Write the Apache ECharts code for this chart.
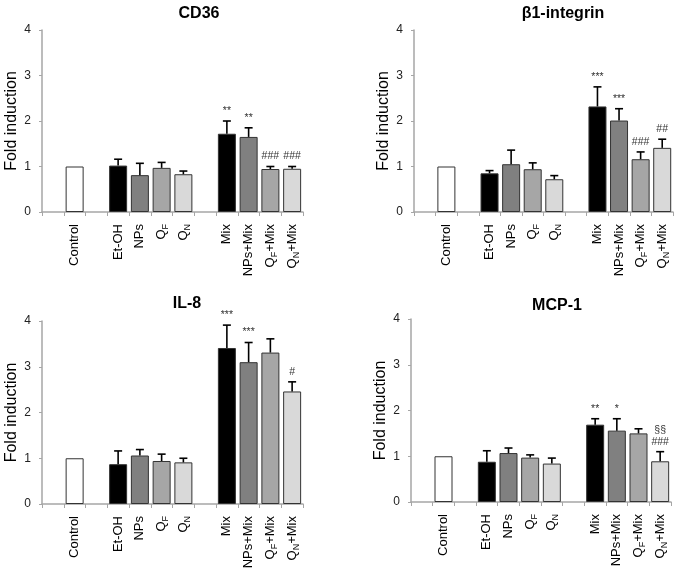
<!DOCTYPE html>
<html>
<head>
<meta charset="utf-8">
<script src="https://cdn.jsdelivr.net/npm/echarts@6/dist/echarts.min.js"></script>
<style>html,body{margin:0;padding:0;background:#fff}#c{width:678px;height:574px}</style>
</head>
<body>
<div id="c"></div>
<script>
// Axis slots (gaps are empty slots between groups)
const slots = ['gap0', 'Control', 'gap1', 'Et-OH', 'NPs', 'QF', 'QN', 'gap2', 'Mix', 'NPs+Mix', 'QF+Mix', 'QN+Mix'];
const treatments = ['Control', 'Et-OH', 'NPs', 'QF', 'QN', 'Mix', 'NPs+Mix', 'QF+Mix', 'QN+Mix'];
const yTicks = [0, 1, 2, 3, 4];

const titles = ['CD36', 'β1-integrin', 'IL-8', 'MCP-1'];

const cd36Mean = [1.0, 1.02, 0.81, 0.97, 0.83, 1.72, 1.65, 0.945, 0.95];
const cd36Sd   = [0, 0.14, 0.26, 0.12, 0.07, 0.28, 0.20, 0.055, 0.05];
const cd36Sig  = ['', '', '', '', '', '**', '**', '###', '###'];

const b1Mean = [1.0, 0.85, 1.05, 0.94, 0.72, 2.32, 2.01, 1.16, 1.41];
const b1Sd   = [0, 0.06, 0.31, 0.14, 0.08, 0.43, 0.26, 0.16, 0.19];
const b1Sig  = ['', '', '', '', '', '***', '***', '###', '##'];

const il8Mean = [1.0, 0.87, 1.06, 0.94, 0.91, 3.41, 3.10, 3.31, 2.46];
const il8Sd   = [0, 0.29, 0.13, 0.15, 0.09, 0.50, 0.43, 0.30, 0.21];
const il8Sig  = ['', '', '', '', '', '***', '***', '', '#'];

const mcp1Mean = [1.0, 0.88, 1.07, 0.97, 0.84, 1.69, 1.56, 1.50, 0.89];
const mcp1Sd   = [0, 0.24, 0.11, 0.06, 0.12, 0.13, 0.26, 0.10, 0.21];
const mcp1Sig  = ['', '', '', '', '', '**', '*', '', '§§\n###'];

const panels = [
  {mean: cd36Mean, sd: cd36Sd, sig: cd36Sig},
  {mean: b1Mean, sd: b1Sd, sig: b1Sig},
  {mean: il8Mean, sd: il8Sd, sig: il8Sig},
  {mean: mcp1Mean, sd: mcp1Sd, sig: mcp1Sig}
];

// styles / layout
const fills = ['#ffffff', '#000000', '#808080', '#a6a6a6', '#d9d9d9', '#000000', '#808080', '#a6a6a6', '#d9d9d9'];
const grids = [
  {left: 42, top: 30, width: 261, height: 182},
  {left: 414, top: 30, width: 259, height: 182},
  {left: 42, top: 321, width: 261, height: 183},
  {left: 411, top: 319, width: 260, height: 183}
];
const titlePos = [[194, 1], [558, 1], [182, 291], [552, 293]];
const font = 'Liberation Sans, Arial, sans-serif';
const axisGray = '#a6a6a6';

const chart = echarts.init(document.getElementById('c'));

const option = {
  animation: false,
  backgroundColor: '#fff',
  title: titles.map((t, i) => ({
    text: t, left: titlePos[i][0], top: titlePos[i][1], textAlign: 'center',
    textStyle: {fontFamily: font, fontSize: 16, fontWeight: 'bold', color: '#000'}
  })),
  grid: grids,
  xAxis: grids.map((g, i) => ({
    type: 'category', gridIndex: i, data: slots, boundaryGap: true,
    axisLine: {lineStyle: {color: axisGray, width: 1.5}},
    axisTick: {show: true, interval: 0, length: 4, lineStyle: {color: axisGray, width: 1}},
    axisLabel: {
      interval: 0, rotate: 90, margin: 12, color: '#000', fontFamily: font, fontSize: 13,
      formatter: v => v.startsWith('gap') ? '' : v.replace(/^Q([FN])/, 'Q{s|$1}'),
      rich: {s: {fontSize: 9, fontFamily: font, color: '#000', padding: [8, 0, 0, 0]}}
    }
  })),
  yAxis: grids.map((g, i) => ({
    type: 'value', gridIndex: i, min: yTicks[0], max: yTicks[yTicks.length - 1], interval: 1,
    name: 'Fold induction', nameLocation: 'middle', nameGap: 22,
    nameTextStyle: {fontFamily: font, fontSize: 16, color: '#000'},
    axisLine: {show: true, lineStyle: {color: axisGray, width: 1.5}},
    axisTick: {show: true, length: 3, lineStyle: {color: axisGray}},
    splitLine: {show: false},
    axisLabel: {color: '#222', fontFamily: font, fontSize: 12, margin: 11}
  })),
  series: []
};

panels.forEach((p, i) => {
  option.series.push({
    type: 'bar', xAxisIndex: i, yAxisIndex: i, barWidth: 18,
    data: treatments.map((t, k) => ({
      value: [slots.indexOf(t), p.mean[k]],
      itemStyle: {color: fills[k], borderColor: '#333', borderWidth: 1}
    }))
  });
  option.series.push({
    type: 'custom', xAxisIndex: i, yAxisIndex: i, z: 5,
    data: treatments.map((t, k) => [slots.indexOf(t), p.mean[k], p.mean[k] + p.sd[k], k]),
    renderItem: (params, api) => {
      const k = api.value(3);
      const base = api.coord([api.value(0), api.value(1)]);
      const top = api.coord([api.value(0), api.value(2)]);
      const children = [];
      if (p.sd[k] > 0) {
        children.push({type: 'line', shape: {x1: top[0], y1: base[1], x2: top[0], y2: top[1]},
          style: {stroke: '#000', lineWidth: 1.6}});
        children.push({type: 'line', shape: {x1: top[0] - 4, y1: top[1], x2: top[0] + 4, y2: top[1]},
          style: {stroke: '#000', lineWidth: 1.6}});
      }
      const s = p.sig[k];
      if (s) {
        children.push({type: 'text', x: top[0], y: top[1] - 4,
          style: {text: s, fill: '#333', fontFamily: font, fontSize: 10.5, align: 'center',
            verticalAlign: 'bottom', lineHeight: 12}});
      }
      return {type: 'group', children};
    }
  });
});

chart.setOption(option);
</script>
</body>
</html>
